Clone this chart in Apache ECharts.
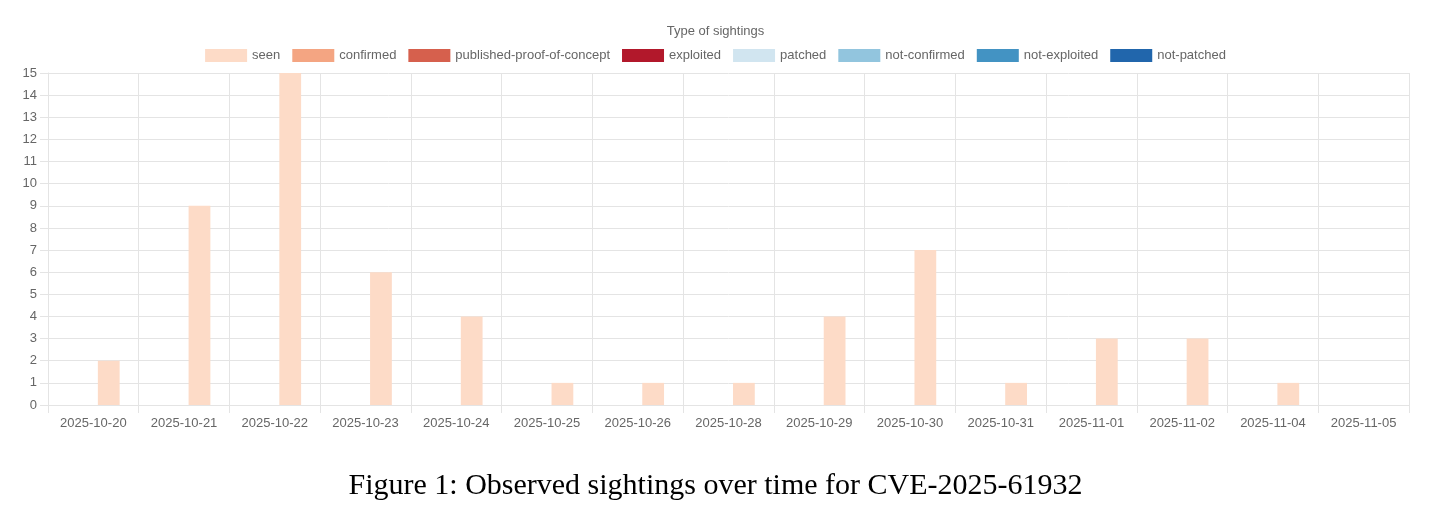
<!DOCTYPE html>
<html>
<head>
<meta charset="utf-8">
<script src="https://cdn.jsdelivr.net/npm/echarts@6/dist/echarts.min.js"></script>
<style>
  html, body { margin: 0; padding: 0; background: #fff; }
  #chart { width: 1431px; height: 516px; }
</style>
</head>
<body>
<div id="chart"></div>
<script>
var dates = ['2025-10-20', '2025-10-21', '2025-10-22', '2025-10-23', '2025-10-24',
	'2025-10-25', '2025-10-26', '2025-10-28', '2025-10-29', '2025-10-30',
	'2025-10-31', '2025-11-01', '2025-11-02', '2025-11-04', '2025-11-05'];
var seen = [2, 9, 15, 6, 4, 1, 1, 1, 4, 7, 1, 3, 3, 1, 0];
var confirmed = [0, 0, 0, 0, 0, 0, 0, 0, 0, 0, 0, 0, 0, 0, 0];
var publishedPoc = [0, 0, 0, 0, 0, 0, 0, 0, 0, 0, 0, 0, 0, 0, 0];
var exploited = [0, 0, 0, 0, 0, 0, 0, 0, 0, 0, 0, 0, 0, 0, 0];
var patched = [0, 0, 0, 0, 0, 0, 0, 0, 0, 0, 0, 0, 0, 0, 0];
var notConfirmed = [0, 0, 0, 0, 0, 0, 0, 0, 0, 0, 0, 0, 0, 0, 0];
var notExploited = [0, 0, 0, 0, 0, 0, 0, 0, 0, 0, 0, 0, 0, 0, 0];
var notPatched = [0, 0, 0, 0, 0, 0, 0, 0, 0, 0, 0, 0, 0, 0, 0];
var yTicks = [0, 15, 1]; // min, max, step

var font = "'Liberation Sans', Arial, Helvetica, sans-serif";
var gridColor = '#e4e4e4';

// the "rest" series share one column left of "seen" (all zero here)
var rest = [
	{ name: 'confirmed', data: confirmed, color: '#f4a582' },
	{ name: 'published-proof-of-concept', data: publishedPoc, color: '#d6604d' },
	{ name: 'exploited', data: exploited, color: '#b2182b' },
	{ name: 'patched', data: patched, color: '#d1e5f0' },
	{ name: 'not-confirmed', data: notConfirmed, color: '#92c5de' },
	{ name: 'not-exploited', data: notExploited, color: '#4393c3' },
	{ name: 'not-patched', data: notPatched, color: '#2166ac' }
];

var series = rest.map(function (s) {
	return {
		name: s.name,
		type: 'bar',
		stack: 'rest',
		data: s.data,
		barWidth: '28.5%',
		barGap: '19%',
		itemStyle: { color: s.color }
	};
});
series.push({
	name: 'seen',
	type: 'bar',
	data: seen,
	barWidth: '24%',
	barGap: '19%',
	itemStyle: { color: '#fddbc7' }
});

var chart = echarts.init(document.getElementById('chart'));
var option = {
	animation: false,
	textStyle: { fontFamily: font },
	title: [{
		text: 'Type of sightings',
		left: 'center',
		top: 20,
		textStyle: { fontSize: 13, fontWeight: 'normal', color: '#666', fontFamily: font }
	}, {
		text: 'Figure 1: Observed sightings over time for CVE-2025-61932',
		left: 'center',
		top: 466,
		textStyle: { fontSize: 30, fontWeight: 'normal', color: '#000', fontFamily: "'Liberation Serif', 'Times New Roman', serif" }
	}],
	legend: {
		top: 44,
		left: 'center',
		icon: 'rect',
		itemWidth: 42,
		itemHeight: 13,
		itemGap: 12,
		data: ['seen', 'confirmed', 'published-proof-of-concept', 'exploited',
			'patched', 'not-confirmed', 'not-exploited', 'not-patched'],
		textStyle: { fontSize: 13, color: '#666', fontFamily: font }
	},
	grid: { left: 48, right: 22, top: 73, bottom: 111 },
	xAxis: {
		type: 'category',
		data: dates,
		axisLine: { lineStyle: { color: gridColor } },
		axisTick: { show: true, length: 8, lineStyle: { color: gridColor } },
		axisLabel: { color: '#666', fontSize: 13, margin: 12, interval: 0 },
		splitLine: { show: true, lineStyle: { color: gridColor } }
	},
	yAxis: {
		type: 'value',
		min: yTicks[0],
		max: yTicks[1],
		interval: yTicks[2],
		axisLine: { show: true, lineStyle: { color: gridColor } },
		axisTick: { show: true, length: 8, lineStyle: { color: gridColor } },
		axisLabel: { color: '#666', fontSize: 13, margin: 11 },
		splitLine: { show: true, lineStyle: { color: gridColor } }
	},
	series: series
};
chart.setOption(option);
</script>
</body>
</html>
